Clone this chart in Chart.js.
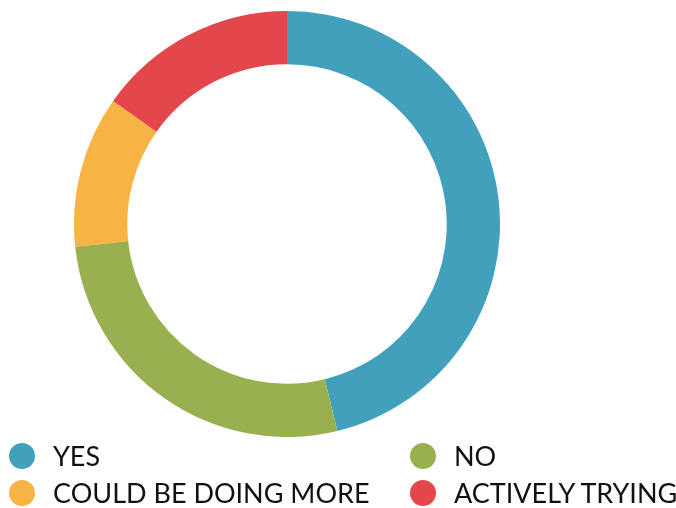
<!DOCTYPE html>
<html>
<head>
<meta charset="utf-8">
<script src="https://cdn.jsdelivr.net/npm/chart.js@4"></script>
<style>
    html, body { margin: 0; padding: 0; background: #fff; }
    body { width: 676px; height: 508px; position: relative; overflow: hidden; }
    #chart-box { position: absolute; left: 74px; top: 11px; width: 426px; height: 426px; }
    #legend { position: absolute; left: 0; top: 0; width: 676px; height: 508px; }
    .item { position: absolute; display: flex; align-items: center; height: 28px; font-family: Lato, sans-serif; font-size: 27px; line-height: 28px; color: #111; white-space: nowrap; }
    .dot { width: 26px; height: 26px; border-radius: 50%; margin-right: 18px; flex: none; }
</style>
</head>
<body>
<div id="chart-box"><canvas id="donut"></canvas></div>
<div id="legend"></div>
<script>
// Survey answers
const labels = ['YES', 'NO', 'COULD BE DOING MORE', 'ACTIVELY TRYING'];
const values = [46.2, 27.1, 11.5, 15.2];
const colors = ['#41a0bb', '#98b04f', '#f7b343', '#e3474c'];

// legend slots (left col / right col, two rows)
const legendSlots = [[9, 442], [410, 442], [9, 479], [410, 479]];

document.addEventListener('DOMContentLoaded', () => {
    initDonut();
    initLegend();
});

function initDonut() {
    const ctx = document.getElementById('donut');
    new Chart(ctx, {
        type: 'doughnut',
        data: {
            labels: labels,
            datasets: [{
                data: values,
                backgroundColor: colors,
                borderWidth: 0
            }]
        },
        options: {
            responsive: true,
            maintainAspectRatio: false,
            animation: false,
            cutout: '75%',
            layout: { padding: 0 },
            plugins: {
                legend: { display: false },
                tooltip: { enabled: false }
            }
        }
    });
}

function initLegend() {
    const legend = document.getElementById('legend');
    labels.forEach((label, i) => {
        const item = document.createElement('div');
        item.className = 'item';
        item.style.left = legendSlots[i][0] + 'px';
        item.style.top = legendSlots[i][1] + 'px';
        const dot = document.createElement('span');
        dot.className = 'dot';
        dot.style.background = colors[i];
        const text = document.createElement('span');
        text.textContent = label;
        item.appendChild(dot);
        item.appendChild(text);
        legend.appendChild(item);
    });
}
</script>
</body>
</html>
